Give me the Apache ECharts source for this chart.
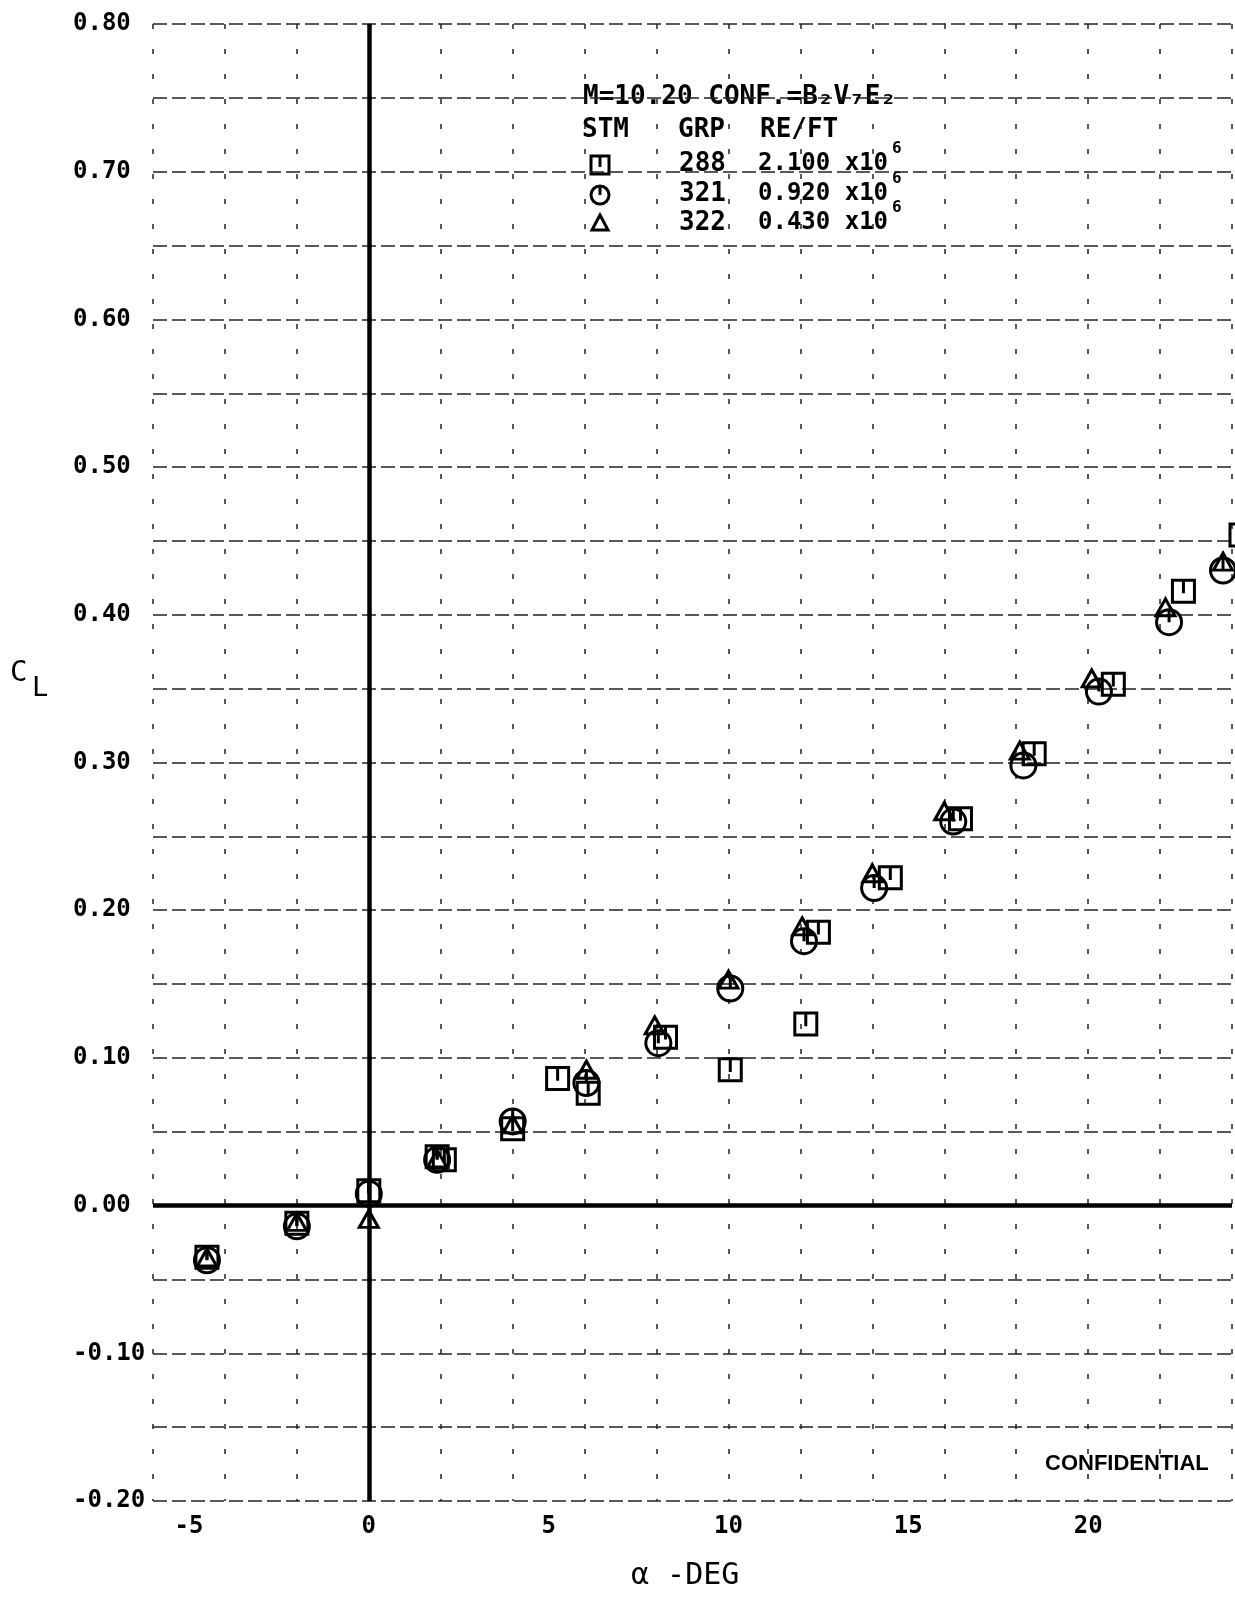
<!DOCTYPE html>
<html>
<head>
<meta charset="utf-8">
<script src="https://cdn.jsdelivr.net/npm/echarts@6/dist/echarts.min.js"></script>
<style>
html,body{margin:0;padding:0;background:#fff;}
#chart{width:1235px;height:1597px;}
</style>
</head>
<body>
<div id="chart"></div>
<script>
// ---- data (alpha in degrees, CL) ----
const grp288Alpha = [-4.5, -2.0, 0.0, 1.9, 2.1, 4.0, 5.25, 6.1, 8.25, 10.05, 12.15, 12.5, 14.5, 16.45, 18.5, 20.7, 22.65, 24.25];
const grp288CL    = [-0.035, -0.012, 0.010, 0.033, 0.031, 0.052, 0.086, 0.076, 0.114, 0.092, 0.123, 0.185, 0.222, 0.262, 0.306, 0.353, 0.416, 0.454];

const grp321Alpha = [-4.5, -2.0, 0.0, 1.9, 4.0, 6.05, 8.05, 10.05, 12.1, 14.05, 16.25, 18.2, 20.3, 22.25, 23.75];
const grp321CL    = [-0.037, -0.014, 0.008, 0.031, 0.057, 0.083, 0.110, 0.147, 0.179, 0.215, 0.260, 0.298, 0.348, 0.395, 0.430];

const grp322Alpha = [-4.5, -2.0, 0.0, 1.9, 4.0, 6.05, 7.95, 10.0, 12.05, 14.0, 16.0, 18.1, 20.1, 22.15, 23.75];
const grp322CL    = [-0.035, -0.011, -0.009, 0.032, 0.055, 0.092, 0.122, 0.153, 0.189, 0.225, 0.267, 0.308, 0.357, 0.405, 0.436];

const xMin = -6, xMax = 24;
const yMin = -0.20, yMax = 0.80;

const legendRows = [
  {sym: 'square',   grp: '288', re: '2.100 x10', exp: '6'},
  {sym: 'circle',   grp: '321', re: '0.920 x10', exp: '6'},
  {sym: 'triangle', grp: '322', re: '0.430 x10', exp: '6'}
];

function pairs(a, b) { return a.map((v, i) => [v, b[i]]); }

const MONO = 'DejaVu Sans Mono';
const SQ = 'path://M0,0L20,0L20,20L0,20ZM10,0L10,12';
const CI = 'path://M10,0A10,10,0,1,1,9.99,0ZM10,0L10,10';
const TR = 'path://M10,0L20,18L0,18Z';

const symStyle = {color: 'rgba(0,0,0,0)', borderColor: '#000', borderWidth: 3, opacity: 1};

const chart = echarts.init(document.getElementById('chart'), null, {renderer: 'canvas'});

function txt(left, top, text, size, extra) {
  return Object.assign({type: 'text', left: left, top: top,
    style: {text: text, font: (extra && extra.bold ? 'bold ' : '') + size + 'px "' + (extra && extra.family ? extra.family : MONO) + '"', fill: '#000'}});
}

// legend graphics
const lg = [];
const rowY = [165, 195, 224];
const B = {bold: true};
lg.push(txt(583, 98 - 14, 'M=10.20 CONF.=B₂V₇E₂', 26, B));
lg.push(txt(582, 131 - 14, 'STM', 26, B));
lg.push(txt(678, 131 - 14, 'GRP', 26, B));
lg.push(txt(760, 131 - 14, 'RE/FT', 26, B));
legendRows.forEach((r, i) => {
  const y = rowY[i];
  if (r.sym === 'square') {
    lg.push({type:'rect', shape:{x:591, y:y-9, width:18, height:18}, style:{fill:'none', stroke:'#000', lineWidth:3}});
    lg.push({type:'line', shape:{x1:600, y1:y-9, x2:600, y2:y+2}, style:{stroke:'#000', lineWidth:3}});
  } else if (r.sym === 'circle') {
    lg.push({type:'circle', shape:{cx:600, cy:y, r:9}, style:{fill:'none', stroke:'#000', lineWidth:3}});
    lg.push({type:'line', shape:{x1:600, y1:y-9, x2:600, y2:y}, style:{stroke:'#000', lineWidth:3}});
  } else {
    lg.push({type:'polygon', shape:{points:[[600,y-9],[608,y+6],[592,y+6]]}, style:{fill:'none', stroke:'#000', lineWidth:3}});
  }
  lg.push(txt(679, y - 14, r.grp, 26, B));
  lg.push(txt(758, y - 13, r.re, 24, B));
  lg.push(txt(892, y - 24, r.exp, 16, B));
});
// axis titles & stamp
lg.push(txt(10, 659, 'C', 29));
lg.push(txt(32, 675, 'L', 27));
lg.push(txt(631, 1561, 'α -DEG', 30));
lg.push(txt(1045, 1453, 'CONFIDENTIAL', 22, {bold: true, family: 'Liberation Sans'}));

const option = {
  backgroundColor: '#fff',
  animation: false,
  grid: {left: 153, right: 0, top: 24, bottom: 96, containLabel: false},
  xAxis: [
    {
      type: 'value', min: xMin, max: xMax, interval: 1, position: 'bottom',
      axisLine: {show: false}, axisTick: {show: false},
      splitLine: {show: false},
      axisLabel: {
        show: true, margin: 14, color: '#000', fontFamily: MONO, fontSize: 24, fontWeight: 'bold',
        formatter: v => (Math.round(v) % 5 === 0 ? String(Math.round(v)) : '')
      }
    },
    {
      type: 'value', min: xMin, max: xMax, interval: 2, position: 'bottom',
      axisLine: {show: false}, axisTick: {show: false}, axisLabel: {show: false},
      splitLine: {show: true, lineStyle: {color: '#222', width: 1.5, type: [5, 20]}}
    }
  ],
  yAxis: {
    type: 'value', min: yMin, max: yMax, interval: 0.05,
    axisLine: {show: true, lineStyle: {color: '#222', width: 1.5, type: [12, 4]}},
    axisTick: {show: false},
    splitLine: {show: true, lineStyle: {color: '#222', width: 1.5, type: [14, 5]}},
    axisLabel: {
      margin: 80, align: 'left', color: '#000', fontFamily: MONO, fontSize: 24, fontWeight: 'bold',
      formatter: v => {
        const k = Math.round(v * 100);
        if (k % 10 !== 0) return '';
        return (k / 100).toFixed(2);
      }
    }
  },
  graphic: lg,
  series: [
    {
      name: '322', type: 'scatter', xAxisIndex: 0,
      data: pairs(grp322Alpha, grp322CL),
      symbol: TR, symbolSize: [19, 17], itemStyle: symStyle, z: 3,
      markLine: {
        silent: true, symbol: ['none', 'none'], label: {show: false},
        lineStyle: {color: '#000', width: 4.5, type: 'solid', opacity: 1},
        emphasis: {disabled: true},
        data: [{xAxis: 0}, {yAxis: 0}]
      }
    },
    {
      name: '321', type: 'scatter', xAxisIndex: 0,
      data: pairs(grp321Alpha, grp321CL),
      symbol: CI, symbolSize: 25, itemStyle: symStyle, z: 4
    },
    {
      name: '288', type: 'scatter', xAxisIndex: 0, clip: false,
      data: pairs(grp288Alpha, grp288CL),
      symbol: SQ, symbolSize: 22, itemStyle: symStyle, z: 5
    }
  ]
};
chart.setOption(option);
</script>
</body>
</html>
